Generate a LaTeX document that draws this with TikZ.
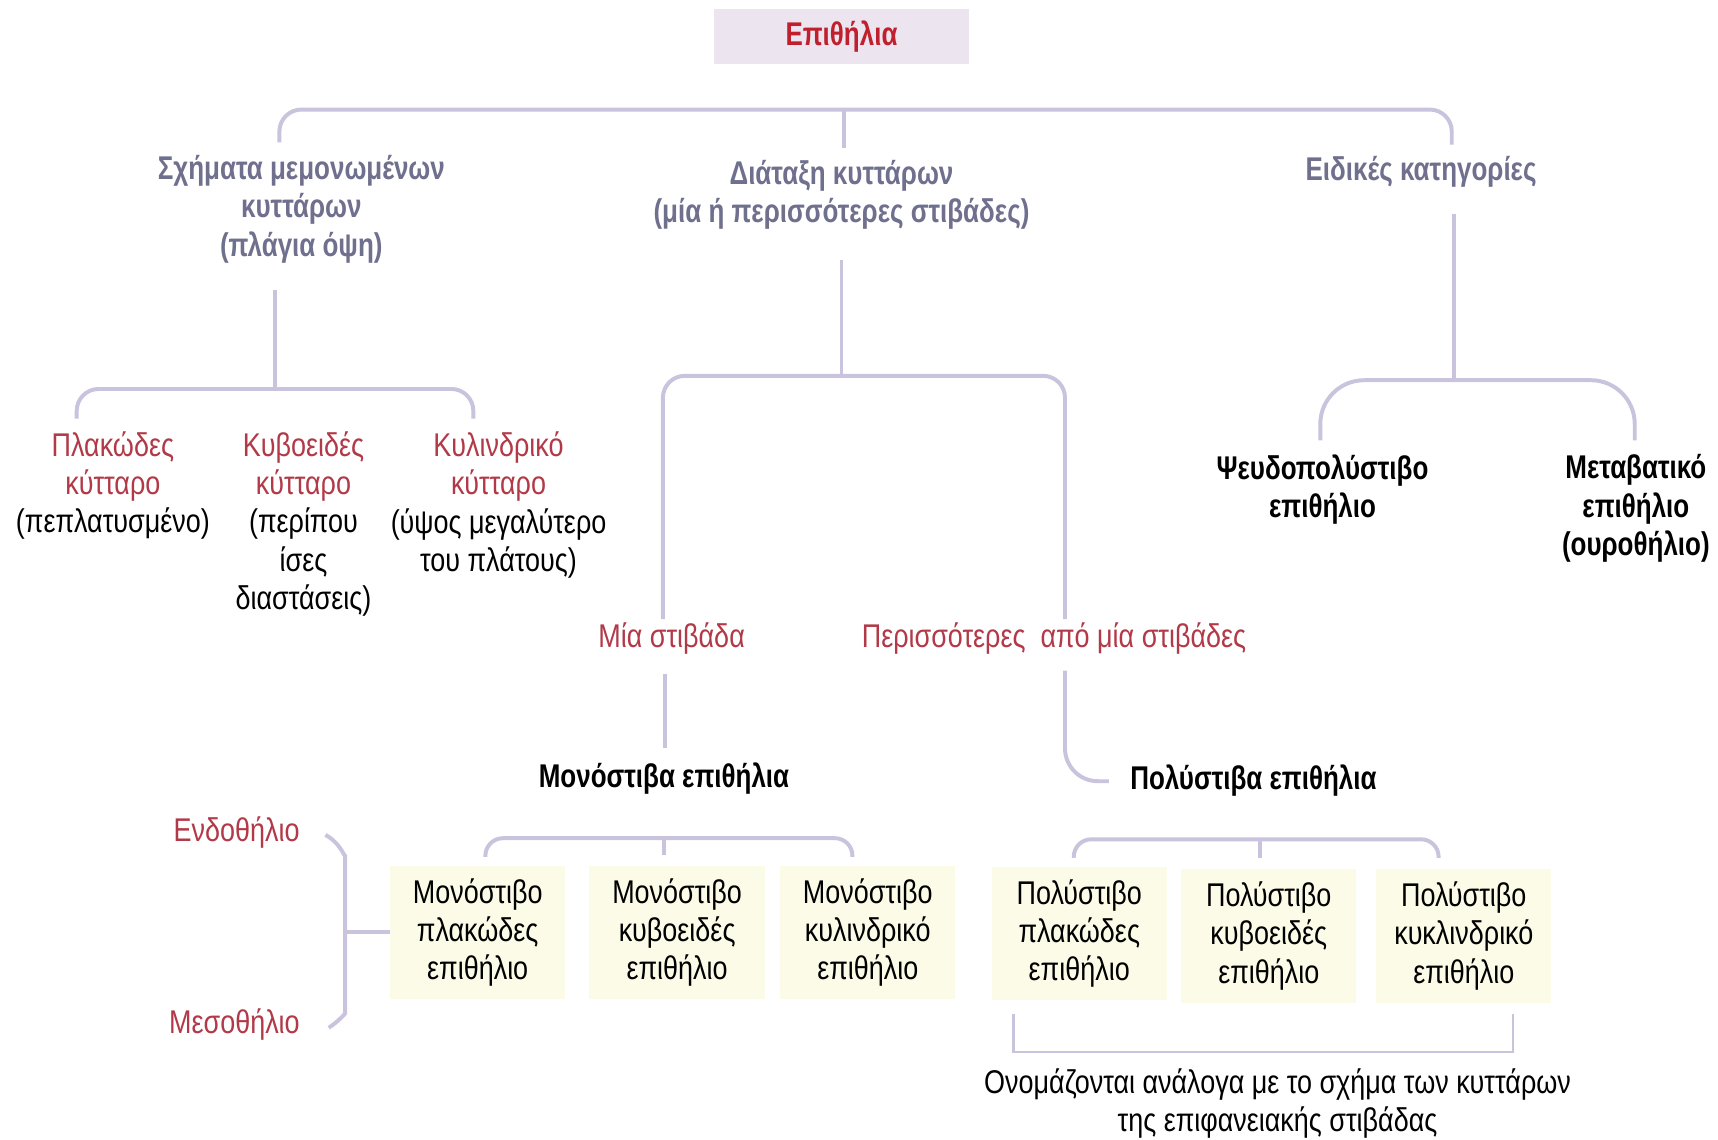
\documentclass[tikz,border=0pt]{standalone}
\usepackage{fontspec}
\setmainfont{Liberation Sans}[FakeStretch=0.82,BoldFeatures={FakeStretch=0.79}]
\definecolor{linklav}{HTML}{C9C3DD}
\definecolor{headgray}{HTML}{6F6F8E}
\definecolor{cellred}{HTML}{B23A48}
\definecolor{titlered}{HTML}{C0202E}
\definecolor{titlefill}{HTML}{ECE5EF}
\definecolor{boxfill}{HTML}{FCFBE7}
\begin{document}
\begin{tikzpicture}[x=0.5pt,y=-0.5pt,
    txt/.style={align=center,inner sep=0pt,font=\fontsize{15}{17.5}\selectfont},
    head/.style={txt,font=\fontsize{15}{17.5}\selectfont\bfseries,text=headgray},
    cell/.style={txt,text=cellred},
    kind/.style={txt,font=\fontsize{15}{17.5}\selectfont\bfseries},
    epibox/.style={txt,fill=boxfill,minimum width=80pt,minimum height=61pt},
    link/.style={draw=linklav,line width=1.8pt,rounded corners=10pt}]
    \useasboundingbox[fill=white] (0,0) rectangle (1568,1040);
    \node[txt,font=\fontsize{15}{17.5}\selectfont\bfseries,text=titlered,fill=titlefill,minimum width=116pt,minimum height=25pt] (title) at (768,33) {Επιθήλια};
    \node[head] (shape) at (275,191) {Σχήματα μεμονωμένων\\κυττάρων\\(πλάγια όψη)};
    \node[head] (layout) at (768,178) {Διάταξη κυττάρων\\(μία ή περισσότερες στιβάδες)};
    \node[head] (special) at (1297,157) {Ειδικές κατηγορίες};
    \node[txt] (plak) at (103,443) {\textcolor{cellred}{Πλακώδες}\\\textcolor{cellred}{κύτταρο}\\(πεπλατυσμένο)};
    \node[txt] (kyvo) at (277,478) {\textcolor{cellred}{Κυβοειδές}\\\textcolor{cellred}{κύτταρο}\\(περίπου\\ίσες\\διαστάσεις)};
    \node[txt] (kyl) at (455,461) {\textcolor{cellred}{Κυλινδρικό}\\\textcolor{cellred}{κύτταρο}\\(ύψος μεγαλύτερο\\του πλάτους)};
    \node[cell] (mia) at (613,583) {Μία στιβάδα};
    \node[cell] (peris) at (962,583) {Περισσότερες\ \ από μία στιβάδες};
    \node[kind] (mono) at (606,711) {Μονόστιβα επιθήλια};
    \node[kind] (poly) at (1144,712) {Πολύστιβα επιθήλια};
    \node[kind] (pseudo) at (1207,447) {Ψευδοπολύστιβο\\επιθήλιο};
    \node[kind] (meta) at (1493,464) {Μεταβατικό\\επιθήλιο\\(ουροθήλιο)};
    \node[epibox] (m1) at (436,851) {Μονόστιβο\\πλακώδες\\επιθήλιο};
    \node[epibox] (m2) at (618,851) {Μονόστιβο\\κυβοειδές\\επιθήλιο};
    \node[epibox] (m3) at (792,851) {Μονόστιβο\\κυλινδρικό\\επιθήλιο};
    \node[epibox] (p1) at (985,852) {Πολύστιβο\\πλακώδες\\επιθήλιο};
    \node[epibox] (p2) at (1158,854) {Πολύστιβο\\κυβοειδές\\επιθήλιο};
    \node[epibox] (p3) at (1336,854) {Πολύστιβο\\κυκλινδρικό\\επιθήλιο};
    \node[cell] (endo) at (216,760) {Ενδοθήλιο};
    \node[cell] (meso) at (214,935) {Μεσοθήλιο};
    \node[txt] (note) at (1166,1007) {Ονομάζονται ανάλογα με το σχήμα των κυττάρων\\της επιφανειακής στιβάδας};
    \coordinate (top-l) at (255,130); \coordinate (top-m) at (770,100); \coordinate (top-r) at (1325,132);
    \coordinate (top-dn) at (770,135);
    \draw[link] (top-l) |- (top-m) -| (top-r);
    \draw[link] (top-m) -- (top-dn);
    \coordinate (sh-up) at (251,265); \coordinate (sh-m) at (251,355); \coordinate (sh-l) at (70,382); \coordinate (sh-r) at (432,382);
    \draw[link] (sh-up) -- (sh-m);
    \draw[link] (sh-l) |- (sh-m) -| (sh-r);
    \coordinate (ly-up) at (768,237); \coordinate (ly-m) at (768,343); \coordinate (ly-l) at (605,565); \coordinate (ly-r) at (972,565);
    \draw[link] (ly-up) -- (ly-m);
    \draw[link] (ly-l) |- (ly-m) -| (ly-r);
    \coordinate (mia-dn) at (607,615); \coordinate (mono-up) at (607,683);
    \draw[link] (mia-dn) -- (mono-up);
    \coordinate (peris-dn) at (972,612); \coordinate (poly-w) at (1012,713);
    \draw[link,rounded corners=15pt] (peris-dn) |- (poly-w);
    \coordinate (sp-up) at (1327,195); \coordinate (sp-m) at (1327,347); \coordinate (sp-l) at (1205,402); \coordinate (sp-r) at (1492,402);
    \draw[link] (sp-up) -- (sp-m);
    \draw[link,rounded corners=20pt] (sp-l) |- (sp-m) -| (sp-r);
    \coordinate (mo-m) at (606,765); \coordinate (mo-l) at (443,782); \coordinate (mo-r) at (778,782); \coordinate (mo-dn) at (606,780);
    \draw[link,rounded corners=8pt] (mo-l) |- (mo-m) -| (mo-r);
    \draw[link] (mo-m) -- (mo-dn);
    \coordinate (po-m) at (1150,766); \coordinate (po-l) at (980,783); \coordinate (po-r) at (1313,783); \coordinate (po-dn) at (1150,783);
    \draw[link,rounded corners=8pt] (po-l) |- (po-m) -| (po-r);
    \draw[link] (po-m) -- (po-dn);
    \coordinate (br-top) at (297,762); \coordinate (br-bot) at (300,938); \coordinate (br-m) at (315,851);
    \draw[link] (br-top) .. controls (312,770) and (315,785) .. (315,800) -- (315,905) .. controls (315,925) and (308,933) .. (br-bot);
    \draw[link] (br-m) -- (m1.west);
    \coordinate (nt-l) at (925,925); \coordinate (nt-r) at (1381,925);
    \draw[draw=linklav,line width=1pt] (nt-l) -- ++(0,35) -| (nt-r);
\end{tikzpicture}
\end{document}
